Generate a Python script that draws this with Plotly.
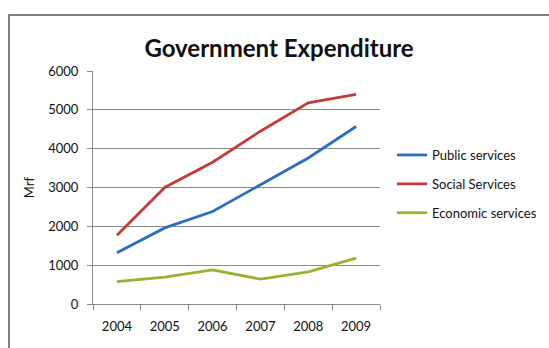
import plotly.graph_objects as go

years = ["2004", "2005", "2006", "2007", "2008", "2009"]
public_services = [1320, 1960, 2380, 3080, 3760, 4570]
social_services = [1770, 3000, 3650, 4450, 5180, 5400]
economic_services = [576, 690, 880, 640, 830, 1180]
series_names = ["Public services", "Social Services", "Economic services"]
series_colors = ["#2b6fbf", "#c43c3a", "#93b431"]

W, H = 549, 348
L, R, T, B = 93, 380, 71, 304

fig = go.Figure()
for name, vals, col in zip(series_names, [public_services, social_services, economic_services], series_colors):
    fig.add_trace(go.Scatter(x=years, y=vals, mode="lines", name=name, legendgroup=name,
                             line=dict(color=col, width=2.8)))

pw, ph = R - L, B - T
def px(x): return (x - L) / pw
def py(y): return (B - y) / ph

fig.add_shape(type="rect", xref="paper", yref="paper",
              x0=px(9), x1=px(570), y0=py(400), y1=py(15),
              line=dict(color="#555555", width=1.5), layer="below")

fig.update_layout(
    width=W, height=H,
    margin=dict(l=L, r=W - R, t=T, b=H - B, autoexpand=False),
    paper_bgcolor="white", plot_bgcolor="white",
    font=dict(family="Lato, 'Open Sans', sans-serif", color="#111111", size=13),
    title=dict(text="<b>Government Expenditure</b>", x=px(279), xref="paper", xanchor="center",
               y=1 - 49 / H, yanchor="middle", yref="container",
               font=dict(size=24, color="#111111")),
    showlegend=True,
    legend=dict(x=392 / W, xref="container", y=1 - 140 / H, yref="container",
                xanchor="left", yanchor="top",
                bgcolor="rgba(0,0,0,0)", font=dict(size=13), tracegroupgap=9,
                traceorder="grouped", itemwidth=30),
    xaxis=dict(range=[-0.5, 5.5], showgrid=False, showline=True, linecolor="#8a8a8a", linewidth=1,
               ticks="outside", tickson="boundaries", ticklen=5, tickcolor="#8a8a8a",
               tickfont=dict(size=13), ticklabelstandoff=10),
    yaxis=dict(range=[0, 6000], dtick=1000, showgrid=True, gridcolor="#8a8a8a", gridwidth=1,
               showline=True, linecolor="#8a8a8a", ticks="outside", ticklen=5, tickcolor="#8a8a8a",
               tickfont=dict(size=13), zeroline=False, ticklabelstandoff=6,
               title=dict(text="Mrf", font=dict(size=13), standoff=10)),
)

fig.write_html("out.html")
